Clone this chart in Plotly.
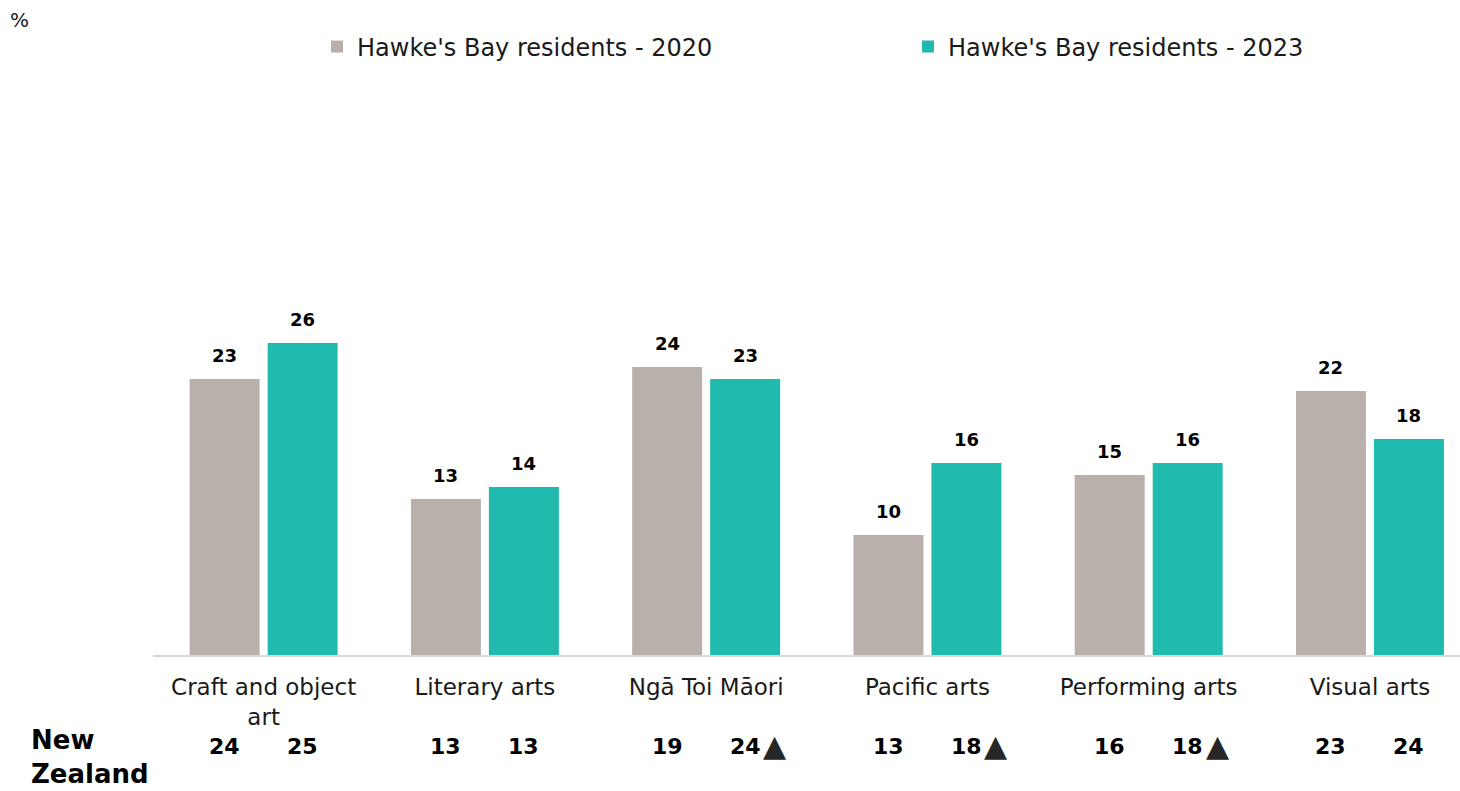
import plotly.graph_objects as go

# Art forms surveyed
categories = ["Craft and object<br>art", "Literary arts", "Ngā Toi Māori",
              "Pacific arts", "Performing arts", "Visual arts"]

# Hawke's Bay residents (%)
hb_2020 = [23, 13, 24, 10, 15, 22]
hb_2023 = [26, 14, 23, 16, 16, 18]

# New Zealand comparison (%)
nz_2020 = [24, 13, 19, 13, 16, 23]
nz_2023 = [25, 13, 24, 18, 18, 24]
nz_2023_up = [False, False, True, True, True, False]

series_names = ["Hawke's Bay residents - 2020", "Hawke's Bay residents - 2023"]
series_colors = ["#B9B0AB", "#20BAAE"]

FONT = "'DejaVu Sans', sans-serif"
x = list(range(len(categories)))
half_slot = 0.1763  # distance from group centre to each bar centre
PLOT_L, PLOT_W = 153, 1307


def px_to_paper_x(px):
    return (px - PLOT_L) / PLOT_W


def px_to_paper_y(py):
    return (655 - py) / 600


fig = go.Figure()
for k, (name, vals, col) in enumerate(zip(series_names, [hb_2020, hb_2023], series_colors)):
    fig.add_bar(x=x, y=vals, name=name, marker_color=col, marker_line_width=0,
                legend="legend" if k == 0 else "legend2")

annotations = []
# value labels above bars
for sign, vals in ((-1, hb_2020), (1, hb_2023)):
    for i, v in enumerate(vals):
        annotations.append(dict(
            x=i + sign * half_slot, y=v, xref="x", yref="y",
            text=f"<b>{v}</b>", showarrow=False, yanchor="middle", yshift=24,
            font=dict(family=FONT, size=18, color="#000000")))

# New Zealand row
nz_y = px_to_paper_y(746)
for sign, vals in ((-1, nz_2020), (1, nz_2023)):
    for i, v in enumerate(vals):
        annotations.append(dict(
            x=i + sign * half_slot, y=nz_y, xref="x", yref="paper",
            text=f"<b>{v}</b>", showarrow=False, yanchor="middle",
            font=dict(family=FONT, size=22, color="#000000")))
for i, up in enumerate(nz_2023_up):
    if up:
        annotations.append(dict(
            x=i + half_slot, y=nz_y, xref="x", yref="paper",
            text="▲", showarrow=False, xanchor="left", yanchor="middle",
            xshift=16, yshift=1,
            font=dict(family=FONT, size=30, color="#262626")))

for line, ypx in (("New", 740), ("Zealand", 774)):
    annotations.append(dict(
        x=px_to_paper_x(29), y=px_to_paper_y(ypx), xref="paper", yref="paper",
        text=f"<b>{line}</b>", showarrow=False, xanchor="left", yanchor="middle",
        font=dict(family=FONT, size=26, color="#000000")))

annotations.append(dict(
    x=px_to_paper_x(19), y=px_to_paper_y(20), xref="paper", yref="paper", text="%",
    showarrow=False, xanchor="center", yanchor="middle",
    font=dict(family=FONT, size=20, color="#1a1a1a")))

legend_common = dict(orientation="h", yanchor="middle", xanchor="left",
                     y=px_to_paper_y(47),
                     font=dict(family=FONT, size=24, color="#1a1a1a"),
                     bgcolor="rgba(0,0,0,0)")

fig.update_layout(
    width=1460, height=791,
    margin=dict(l=PLOT_L, r=0, t=55, b=136),
    paper_bgcolor="white", plot_bgcolor="white",
    barmode="group", bargap=0.295, bargroupgap=0.103,
    font=dict(family=FONT, color="#1a1a1a"),
    xaxis=dict(range=[-0.5, 5.407], tickmode="array", tickvals=x, ticktext=categories,
               showline=True, linecolor="#D9D9D9", linewidth=2, ticks="",
               showgrid=False, zeroline=False, ticklabelstandoff=10,
               tickfont=dict(family=FONT, size=23, color="#1a1a1a")),
    yaxis=dict(range=[0, 50], visible=False),
    legend=dict(x=px_to_paper_x(317), **legend_common),
    legend2=dict(x=px_to_paper_x(908), **legend_common),
    annotations=annotations,
    showlegend=True,
)

fig.write_html("out.html")
